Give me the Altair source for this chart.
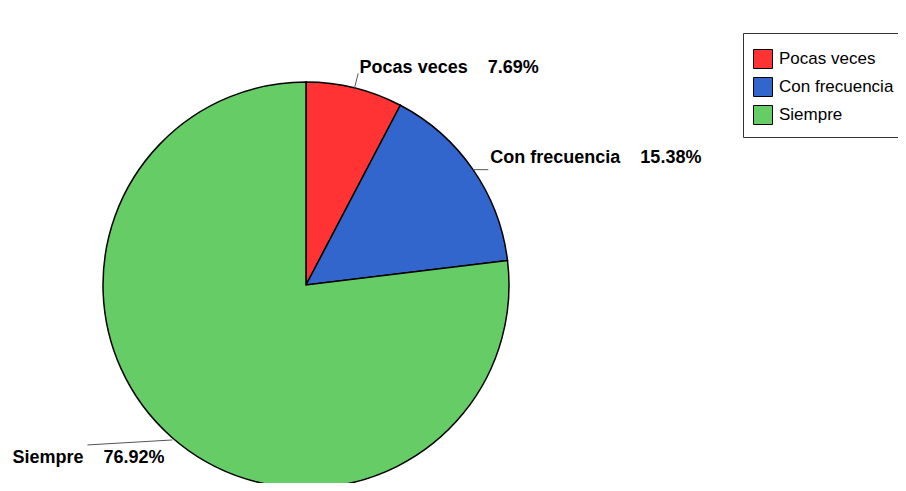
import math
import altair as alt
import pandas as pd

# ---- data ----
categories = ["Pocas veces", "Con frecuencia", "Siempre"]
percents = [7.69, 15.38, 76.92]
colors = ["#FF3333", "#3366CC", "#66CC66"]

# ---- layout (pixels inside the plot area) ----
W, H = 890, 475
CX, CY, R = 298, 277, 203
LABEL_R = 224
GAP = "\u00a0" * 4

df = pd.DataFrame({"cat": categories, "pct": percents, "order": list(range(len(categories)))})
df["label"] = [f"{c}{GAP}{p:.2f}%" for c, p in zip(categories, percents)]

total = sum(percents)
cum = 0.0
mids = []
for p in percents:
    mids.append((cum + p / 2) / total * 2 * math.pi)
    cum += p
df["mid"] = mids
df["tx"] = [CX + LABEL_R * math.sin(a) for a in mids]
df["ty"] = [CY - LABEL_R * math.cos(a) for a in mids]
df["side"] = ["right" if math.sin(a) >= 0 else "left" for a in mids]

# leader lines: from slice edge toward the label
lx1, ly1, lx2, ly2 = [], [], [], []
for a, side in zip(mids, df["side"]):
    sx, sy = CX + R * math.sin(a), CY - R * math.cos(a)
    if side == "right" and math.cos(a) > 0.9:
        lx1.append(sx)
        ly1.append(sy)
        lx2.append(CX + (R + 15) * math.sin(a))
        ly2.append(CY - (R + 15) * math.cos(a))
    elif side == "right":
        lx1.append(sx)
        ly1.append(sy)
        lx2.append(CX + LABEL_R * math.sin(a) - 2)
        ly2.append(sy)
    else:
        lx1.append(sx + 1)
        ly1.append(sy + 3)
        lx2.append(sx - 84)
        ly2.append(sy + 8)
lines = pd.DataFrame({"x": lx1, "y": ly1, "x2": lx2, "y2": ly2})

pie = alt.Chart(df).mark_arc(radius=R, stroke="black", strokeWidth=1.5).encode(
    theta=alt.Theta("pct:Q", stack=True),
    order=alt.Order("order:Q"),
    color=alt.Color(
        "cat:N",
        scale=alt.Scale(domain=categories, range=colors),
        legend=alt.Legend(title=" ", orient="none", legendX=735, legendY=25),
    ),
    x=alt.value(CX),
    y=alt.value(CY),
)

leaders = alt.Chart(lines).mark_rule(color="#555555", strokeWidth=1).encode(
    x=alt.X("x:Q", scale=None),
    y=alt.Y("y:Q", scale=None),
    x2="x2:Q",
    y2="y2:Q",
)

text_style = dict(baseline="middle", fontSize=18, fontWeight="bold", font="Liberation Sans", color="black")

labels_right = alt.Chart(df).transform_filter(alt.datum.side == "right").mark_text(
    align="left", **text_style
).encode(x=alt.X("tx:Q", scale=None), y=alt.Y("ty:Q", scale=None), text="label:N")

labels_left = alt.Chart(df).transform_filter(alt.datum.side == "left").mark_text(
    align="right", dx=7, dy=5, **text_style
).encode(x=alt.X("tx:Q", scale=None), y=alt.Y("ty:Q", scale=None), text="label:N")

chart = (
    alt.layer(pie, leaders, labels_right, labels_left)
    .properties(width=W, height=H, padding=0, autosize="none")
    .configure_view(stroke=None)
    .configure_legend(
        strokeColor="#333333",
        fillColor="white",
        padding=10,
        titleFontSize=4,
        titlePadding=2,
        symbolType="square",
        symbolSize=361,
        symbolStrokeColor="black",
        symbolStrokeWidth=1,
        symbolOpacity=1,
        labelFont="Liberation Sans",
        labelFontSize=17,
        labelColor="black",
        labelOffset=6,
        labelLimit=400,
        rowPadding=4,
    )
)

chart.save("out.html", embed_options={"renderer": "svg", "actions": False})
